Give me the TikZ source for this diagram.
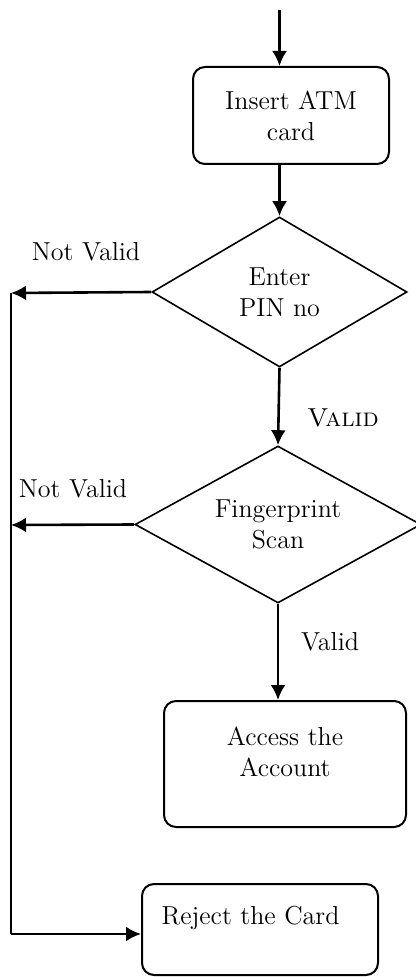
\documentclass[tikz,border=0pt]{standalone}
\usetikzlibrary{positioning,arrows.meta,shapes.geometric}
\newcommand{\chartfont}{\fontsize{13}{15.5}\selectfont}
\tikzset{
  flowarrow/.style={-{Latex[length=7.5pt,width=7.5pt]}, line width=1.3pt},
  railline/.style={line width=0.8pt},
  stepbox/.style={draw, rounded corners=6pt, line width=1pt, align=center, font=\chartfont},
  decision/.style={draw, diamond, aspect=1.8, line width=0.8pt, inner sep=0pt, align=center, font=\chartfont},
  edgelabel/.style={font=\chartfont}
}

\begin{document}
\begin{tikzpicture}[x=0.5pt, y=-0.5pt]
  \useasboundingbox (0,0) rectangle (416,977);
  \coordinate (start) at (279.5,10);
  \node[stepbox, minimum width=98pt, minimum height=48.5pt] (card) at (291,115.5) {Insert ATM\\card};
  \node[decision, minimum width=127.5pt, minimum height=75pt] (pin) at (279.5,292) {Enter\\PIN no};
  \node[decision, minimum width=143pt, minimum height=78.5pt] (scan) at (278,524.5) {Fingerprint\\Scan};
  \node[stepbox, minimum width=121pt, minimum height=63pt] (access) at (285,764) {Access the\\Account\\[-3.5pt]\mbox{}};
  \node[stepbox, minimum width=118pt, minimum height=45.5pt] (reject) at (260,929.5) {Reject the Card\hspace*{9.5pt}\\[-1pt]\mbox{}};

  \coordinate (railtop) at (11,293);
  \coordinate (scanout) at (11,525);
  \coordinate (railbot) at (11,934);

  \draw[flowarrow] (start) -- (start |- card.north);
  \draw[flowarrow] (card.south -| pin.north) -- (pin.north);
  \draw[flowarrow] (pin.south) -- (scan.north);
  \draw[flowarrow] (scan.south) -- (scan.south |- access.north);
  \draw[flowarrow] (pin.west) -- (railtop);
  \draw[flowarrow] (scan.west) -- (scanout);
  \draw[railline] (railtop) -- (railbot);
  \draw[flowarrow] (railbot) -- (railbot -| reject.west);

  \node[edgelabel] (nv1) at (86,252) {Not Valid};
  \node[edgelabel] (ok1) at (343,418) {\textsc{Valid}};
  \node[edgelabel] (nv2) at (73,489) {Not Valid};
  \node[edgelabel] (ok2) at (330,642) {Valid};
\end{tikzpicture}
\end{document}
